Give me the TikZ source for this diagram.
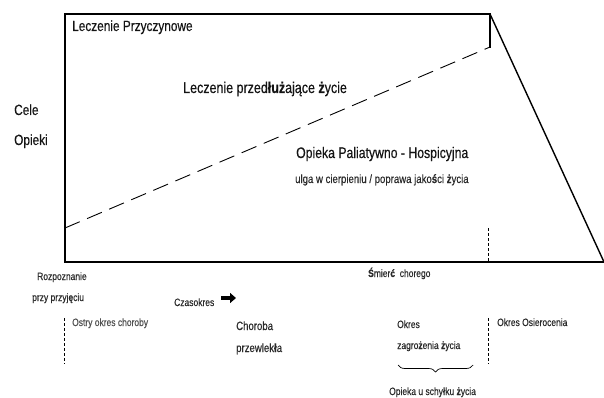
\documentclass[tikz,border=0pt]{standalone}
\usepackage{fontspec}
\setmainfont{Liberation Sans}[FakeStretch=0.8, FakeBold=0.4]
\usetikzlibrary{decorations.pathreplacing,arrows.meta}
\definecolor{txtgray}{HTML}{2A2A2A}
\definecolor{lightgray}{HTML}{505050}
\tikzset{
  big/.style={font=\fontsize{14.8}{16}\selectfont, anchor=base west, inner sep=0pt, text=black!92},
  mid/.style={font=\fontsize{12}{14}\selectfont, anchor=base west, inner sep=0pt, text=txtgray},
  small/.style={font=\fontsize{10.6}{12}\selectfont, anchor=base west, inner sep=0pt, text=txtgray},
  boxline/.style={line width=2.6pt, line cap=rect},
  slant/.style={line width=1.4pt},
  longdash/.style={line width=0.9pt, dash pattern=on 16pt off 8pt},
  shortdash/.style={line width=0.9pt, dash pattern=on 3pt off 2pt},
}
\begin{document}
\begin{tikzpicture}[x=1pt,y=-1pt]
\useasboundingbox (0,0) rectangle (604,398);
% frame
\coordinate (tl) at (65,14);
\coordinate (tr) at (490,14);
\coordinate (trb) at (490,47);
\coordinate (bl) at (65,262);
\coordinate (br) at (606,262);
\coordinate (dl) at (65,228);
\coordinate (sr) at (604,262);
\draw[boxline] (bl) -- (tl) -- (tr) -- (trb);
\draw[boxline] (bl) -- (br);
\draw[slant] (tr) -- (sr);
\draw[longdash] (dl) -- (trb);
% dashed markers
\coordinate (m1a) at (488,228);
\coordinate (m1b) at (488,262);
\draw[shortdash] (m1a) -- (m1b);
\coordinate (m2a) at (488,318);
\coordinate (m2b) at (488,364);
\draw[shortdash] (m2a) -- (m2b);
\coordinate (m3a) at (64.5,318);
\coordinate (m3b) at (64.5,364);
\draw[shortdash] (m3a) -- (m3b);
% texts in the frame
\node[big] (lp) at (72,31) {Leczenie Przyczynowe};
\node[big, font=\fontsize{15.6}{17}\selectfont] (lz) at (183,93) {Leczenie przed\textbf{łuż}ające \textbf{ż}ycie};
\node[big] (ce) at (14,115) {Cele};
\node[big] (op) at (14,145) {Opieki};
\node[big, font=\fontsize{15.3}{17}\selectfont] (oph) at (296,158) {Opieka Paliatywno - Hospicyjna};
\node[mid] (ul) at (295,183) {ulga w cierpieniu / poprawa jako\textbf{ś}ci \textbf{ż}ycia};
% bottom texts
\node[small] (ro) at (37,280) {Rozpoznanie};
\node[small] (pp) at (32,301) {przy przyj\textbf{ę}ciu};
\node[small] (cz) at (174,306) {Czasokres};
\coordinate (ara) at (221,298);
\coordinate (arb) at (236,298);
\draw[line width=3.6pt, -{Triangle[length=6pt,width=10pt]}] (ara) -- (arb);
\node[small, text=lightgray] (os) at (72,326) {Ostry okres choroby};
\node[mid] (ch) at (236,330) {Choroba};
\node[mid] (pw) at (236,352) {przewlek\textbf{ł}a};
\node[small] (sm) at (368,277) {\textbf{Ś}mier\textbf{ć}\ \ chorego};
\node[small] (ok) at (397,328) {Okres};
\node[small] (zg) at (397,349) {zagro\textbf{ż}enia \textbf{ż}ycia};
\node[small] (oo) at (497,326) {Okres Osierocenia};
\coordinate (bra) at (398,365);
\coordinate (brb) at (473,365);
\draw[line width=0.7pt, decorate, decoration={brace, mirror, amplitude=7pt}] (bra) -- (brb);
\node[small] (ous) at (389,395) {Opieka u schy\textbf{ł}ku \textbf{ż}ycia};
\end{tikzpicture}
\end{document}
